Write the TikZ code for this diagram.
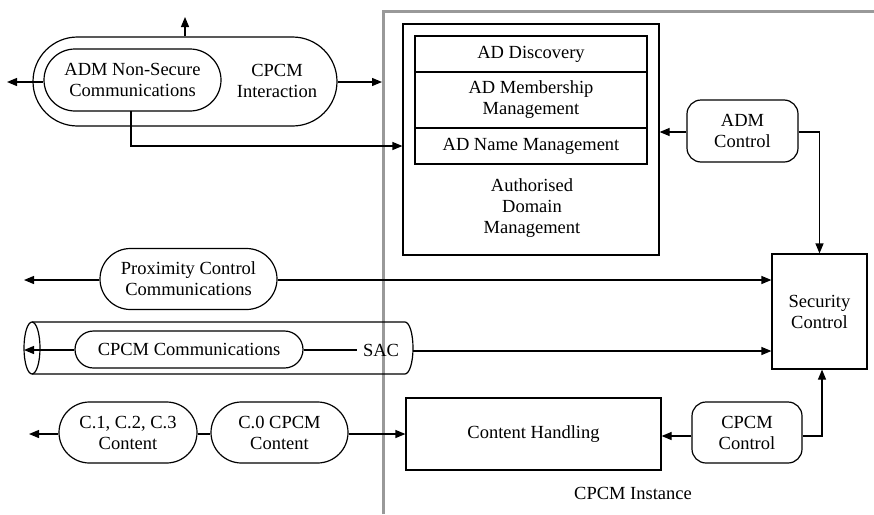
\documentclass[tikz,border=0pt]{standalone}
\usepackage{fontspec}
\setmainfont{Liberation Serif}
\usetikzlibrary{arrows.meta,shapes.misc}
\begin{document}
\begin{tikzpicture}[x=1pt,y=-1pt,
  every node/.style={font=\fontsize{18.5}{21}\selectfont, align=center, inner sep=0pt},
  ln/.style={line width=1.2pt},
  arr/.style={ln,-{Triangle[length=10pt,width=8pt]}},
  stadium/.style={ln,draw,rounded rectangle},
  rbox/.style={ln,draw,rectangle,rounded corners=14pt},
  sbox/.style={ln,draw,rectangle},
  frame/.style={line width=3pt,draw=black!40}]
\useasboundingbox (0,0) rectangle (874,514);

% CPCM instance border
\draw[frame] (383,514) -- (383,11) -- (875,11);
\node (inst) at (633,493) {CPCM Instance};

% CPCM interaction (outer) with ADM non-secure communications (inner)
\node[stadium, minimum width=304pt, minimum height=89pt] (inter) at (185,81.5) {};
\node (intertxt) at (277,81) {CPCM\\Interaction};
\node[stadium, minimum width=177pt, minimum height=62pt] (nsc) at (132.5,80) {ADM Non-Secure\\Communications};
\coordinate (upend) at (185,17);
\coordinate (leftend) at (7,82);
\coordinate (rightend) at (382,82);
\draw[arr] (inter.north) -- (upend);
\draw[arr] (nsc.west |- leftend) -- (leftend);
\draw[arr] (inter.east |- rightend) -- (rightend);

% Authorised domain management
\node[sbox, minimum width=256pt, minimum height=231pt] (adm) at (531,139.5) {};
\node[sbox, minimum width=232pt, minimum height=36pt] (disc) at (531,54) {AD Discovery};
\node[sbox, minimum width=232pt, minimum height=56pt] (memb) at (531,100) {AD Membership\\Management};
\node[sbox, minimum width=232pt, minimum height=36pt] (name) at (531,146) {AD Name Management};
\node (admtxt) at (532,208) {Authorised\\Domain\\Management};
\draw[arr] (131,111) |- (adm.west |- 0,146);

% ADM control
\node[rbox, minimum width=111pt, minimum height=62pt] (admctl) at (742.5,131) {ADM\\Control};

% Security control
\node[sbox, minimum width=95pt, minimum height=115pt] (sec) at (819.5,311.5) {Security\\Control};
\draw[arr] (admctl.west |- 0,132) -- (adm.east |- 0,132);
\draw[arr] (admctl.east |- 0,132) -| (sec.north);

% Proximity control communications
\node[stadium, minimum width=177pt, minimum height=61pt] (prox) at (188.5,279) {Proximity Control\\Communications};
\coordinate (proxend) at (24,280);
\draw[arr] (prox.west |- proxend) -- (proxend);
\draw[arr] (prox.east |- proxend) -- (sec.west |- proxend);

% Secure authenticated channel (cylinder)
\draw[ln] (32,322) -- (405,322) arc[start angle=-90, end angle=90, x radius=8, y radius=26] -- (32,374);
\draw[ln] (32,348) ellipse [x radius=8, y radius=26];
\coordinate (sacend) at (413,351);
\coordinate (cylend) at (24,350);
\node[stadium, minimum width=228pt, minimum height=37pt] (comm) at (189,349.5) {CPCM Communications};
\node (sac) at (381,350) {SAC};
\draw[arr] (comm.west |- cylend) -- (cylend);
\draw[ln] (comm.east |- sac.west) -- ([xshift=-6pt]sac.west);
\draw[arr] (sacend) -- (sec.west |- sacend);

% Content paths
\node[stadium, minimum width=138pt, minimum height=61pt] (c123) at (128,432.5) {C.1, C.2, C.3\\Content};
\node[stadium, minimum width=137pt, minimum height=61pt] (c0) at (279.5,432.5) {C.0 CPCM\\Content};
\node[sbox, minimum width=255pt, minimum height=72pt] (ch) at (533.5,434) {Content Handling};
\node[rbox, minimum width=110pt, minimum height=61pt] (cpctl) at (747,432.5) {CPCM\\Control};
\coordinate (cend) at (29,434);
\draw[arr] (c123.west |- cend) -- (cend);
\draw[ln] (c123.east |- cend) -- (c0.west |- cend);
\draw[arr] (c0.east |- cend) -- (ch.west |- cend);
\draw[arr] (cpctl.west |- 0,436) -- (ch.east |- 0,436);
\draw[arr] (cpctl.east |- 0,436) -| ([xshift=2.5pt]sec.south);
\end{tikzpicture}
\end{document}
